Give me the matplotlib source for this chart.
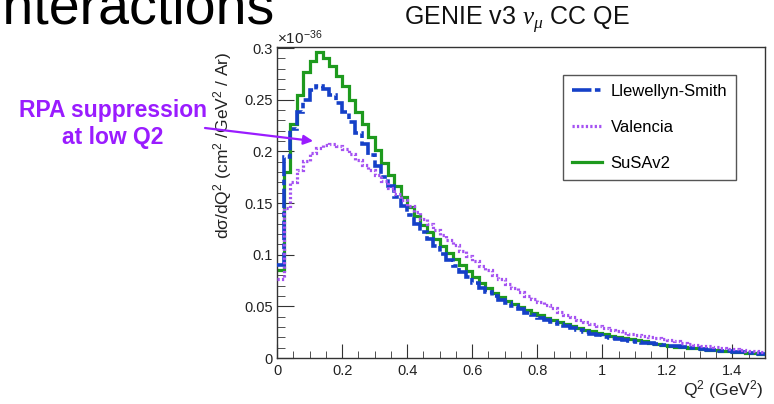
import numpy as np
import matplotlib
matplotlib.use('Agg')
import matplotlib.pyplot as plt
from matplotlib.ticker import MultipleLocator, FuncFormatter

plt.rcParams['font.family'] = ['Liberation Sans', 'DejaVu Sans']
plt.rcParams['mathtext.fontset'] = 'custom'
plt.rcParams['mathtext.rm'] = 'Liberation Sans'
plt.rcParams['mathtext.it'] = 'Liberation Serif:italic'
plt.rcParams['mathtext.default'] = 'regular'
plt.rcParams['lines.scale_dashes'] = False

# Q2 histogram, 75 bins of 0.02 GeV^2 from 0 to 1.5 (units of 1e-36 cm2/GeV2/Ar)
q2_lo, q2_hi, n_bins = 0.0, 1.5, 75

llewellyn_smith = [
    0.090, 0.195, 0.222, 0.238, 0.250, 0.259, 0.263, 0.260, 0.255, 0.247,
    0.238, 0.228, 0.218, 0.207, 0.196, 0.186, 0.175, 0.166, 0.156, 0.147,
    0.138, 0.130, 0.122, 0.115, 0.108, 0.101, 0.095, 0.089, 0.083, 0.078,
    0.073, 0.068, 0.064, 0.060, 0.056, 0.053, 0.050, 0.047, 0.044, 0.042,
    0.039, 0.037, 0.035, 0.033, 0.031, 0.029, 0.027, 0.025, 0.023, 0.022,
    0.020, 0.019, 0.018, 0.017, 0.016, 0.0155, 0.015, 0.0145, 0.014, 0.013,
    0.012, 0.0112, 0.0105, 0.0098, 0.0092, 0.0086, 0.0080, 0.0075, 0.0069, 0.0064,
    0.0059, 0.0054, 0.0050, 0.0046, 0.0042]

valencia = [
    0.076, 0.145, 0.170, 0.182, 0.191, 0.198, 0.203, 0.206, 0.207, 0.205,
    0.202, 0.197, 0.192, 0.187, 0.182, 0.177, 0.171, 0.165, 0.159, 0.153,
    0.147, 0.141, 0.135, 0.130, 0.124, 0.119, 0.114, 0.109, 0.104, 0.099,
    0.094, 0.089, 0.085, 0.080, 0.076, 0.072, 0.068, 0.064, 0.060, 0.057,
    0.054, 0.051, 0.048, 0.045, 0.042, 0.040, 0.037, 0.035, 0.033, 0.031,
    0.029, 0.027, 0.026, 0.024, 0.023, 0.022, 0.021, 0.020, 0.019, 0.018,
    0.017, 0.016, 0.015, 0.014, 0.013, 0.012, 0.0112, 0.0105, 0.0098, 0.0091,
    0.0084, 0.0077, 0.0070, 0.0063, 0.0056]

susav2 = [
    0.085, 0.180, 0.226, 0.255, 0.277, 0.287, 0.296, 0.290, 0.283, 0.273,
    0.263, 0.250, 0.238, 0.226, 0.214, 0.201, 0.189, 0.177, 0.166, 0.156,
    0.146, 0.137, 0.129, 0.122, 0.115, 0.108, 0.102, 0.096, 0.090, 0.084,
    0.078, 0.073, 0.068, 0.063, 0.059, 0.055, 0.052, 0.049, 0.046, 0.044,
    0.042, 0.039, 0.037, 0.035, 0.033, 0.031, 0.029, 0.027, 0.026, 0.024,
    0.023, 0.021, 0.020, 0.019, 0.018, 0.017, 0.016, 0.015, 0.014, 0.013,
    0.012, 0.011, 0.0105, 0.0098, 0.0092, 0.0086, 0.0080, 0.0074, 0.0068, 0.0063,
    0.0059, 0.0055, 0.0051, 0.0047, 0.0043]

edges = np.linspace(q2_lo, q2_hi, n_bins + 1)

c_blue = '#1540c8'
c_purple = '#a552f2'
c_green = '#1e9a1e'
c_annot = '#9a1cff'
c_axis = '#333333'

fig = plt.figure(figsize=(7.74, 4.04), dpi=100)
ax = fig.add_axes([277 / 774, 46 / 404, 488 / 774, 311 / 404])

ax.stairs(susav2, edges, baseline=None, color=c_green, lw=2.3, label='SuSAv2', zorder=2)
ax.stairs(llewellyn_smith, edges, baseline=None, color=c_blue, lw=2.6,
          linestyle=(0, (14, 2.5, 4, 2.5)), label='Llewellyn-Smith', zorder=3)
ax.stairs(valencia, edges, baseline=None, color=c_purple, lw=2.3,
          linestyle=(0, (1.6, 1.6)), label='Valencia', zorder=4)

ax.set_xlim(0, 1.5)
ax.set_ylim(0, 0.301)
ax.xaxis.set_major_locator(MultipleLocator(0.2))
ax.xaxis.set_minor_locator(MultipleLocator(0.05))
ax.yaxis.set_major_locator(MultipleLocator(0.05))
ax.yaxis.set_minor_locator(MultipleLocator(0.01))
fmt = FuncFormatter(lambda v, p: ('%g' % round(v, 3)))
ax.xaxis.set_major_formatter(fmt)
ax.yaxis.set_major_formatter(fmt)
ax.tick_params(which='both', direction='in', top=False, right=False,
               colors=c_axis, labelsize=10.5, labelcolor='#222222')
ax.tick_params(axis='y', which='major', length=12, pad=3)
ax.tick_params(axis='y', which='minor', length=6)
ax.tick_params(axis='x', which='major', length=10, pad=4)
ax.tick_params(axis='x', which='minor', length=5)
for s in ax.spines.values():
    s.set_color(c_axis)
    s.set_linewidth(1.0)

ax.text(0.0, 1.0, r'$\times$10$^{-36}$', transform=ax.transAxes,
        fontsize=11, color='#222222', ha='left', va='bottom')

ax.set_ylabel('d\u03c3/dQ$^{2}$ (cm$^{2}$ /GeV$^{2}$ / Ar)', fontsize=12.5,
              loc='top', color='#222222')
ax.yaxis.set_label_coords(-0.088, 0.985)
ax.set_xlabel('Q$^{2}$ (GeV$^{2}$)', fontsize=12.5, loc='right', color='#222222')
ax.xaxis.set_label_coords(0.997, -0.065)

handles, labels = ax.get_legend_handles_labels()
order = [labels.index(n) for n in ['Llewellyn-Smith', 'Valencia', 'SuSAv2']]
leg = ax.legend([handles[i] for i in order], [labels[i] for i in order],
                loc='upper left', bbox_to_anchor=(0.586, 0.91), borderaxespad=0,
                fontsize=12, handlelength=1.8, handletextpad=0.5,
                labelspacing=1.25, borderpad=0.55, fancybox=False,
                framealpha=1, edgecolor='#555555')
leg.get_frame().set_linewidth(1.0)

fig.text(404 / 774, 1 - 25 / 404, r'GENIE v3 $\mathit{\nu}_{\mathit{\mu}}$ CC QE',
         fontsize=18, ha='left', va='baseline', color='#111111')

fig.text(275 / 774, 1 - 24 / 404, 'Interactions', fontsize=40,
         ha='right', va='baseline', color='black')

fig.text(113 / 774, 1 - 124 / 404, 'RPA suppression\nat low Q2', fontsize=16.5,
         fontweight='bold', color=c_annot, ha='center', va='center',
         linespacing=1.25)

ax.annotate('', xy=(0.111, 0.210), xycoords='data',
            xytext=(205, 404 - 128), textcoords='figure pixels',
            arrowprops=dict(arrowstyle='-|>', color=c_annot, lw=1.6,
                            mutation_scale=14, shrinkA=0, shrinkB=0),
            annotation_clip=False, zorder=6)

fig.savefig('out.png', dpi=100)
